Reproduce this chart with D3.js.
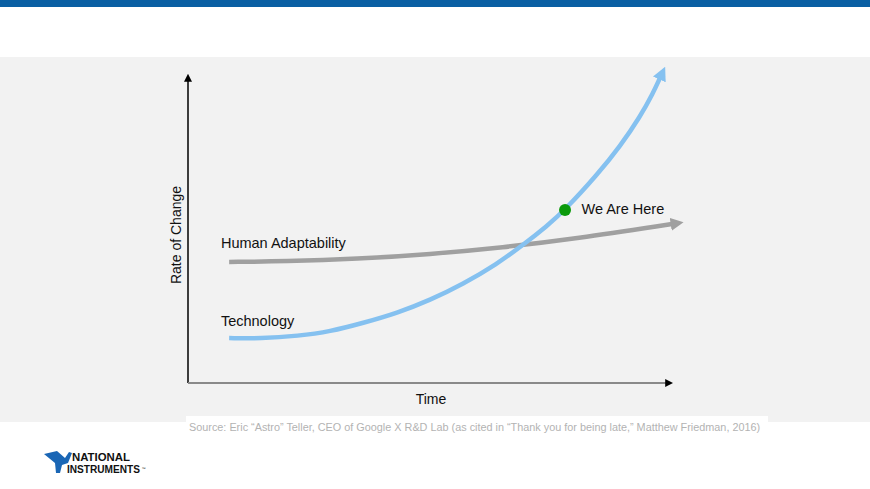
<!DOCTYPE html>
<html>
<head>
<meta charset="utf-8">
<script src="https://cdn.jsdelivr.net/npm/d3@7"></script>
<style>
    html, body { margin: 0; padding: 0; background: #fff; }
    svg { display: block; font-family: Arial, "Liberation Sans", sans-serif; }
</style>
</head>
<body>
<svg id="chart" width="870" height="489"></svg>
<script>

// conceptual curves, time 0..100 vs rate 0..100
var humanTime  = [8.5, 20, 35, 50, 65, 80, 100];
var humanRate  = [39.3, 39.5, 40.3, 41.8, 44.0, 46.8, 51.6];

var techTime   = [8.5, 14.9, 22.9, 29.3, 36.2, 43.2, 50, 56.8, 63.8, 69.2, 74.2, 77.9, 84.5, 89.3, 93.4, 96.1, 97.5];
var techRate   = [14.6, 14.4, 15.3, 16.7, 19.5, 22.7, 26.9, 32.1, 38.6, 44.8, 51.0, 56.2, 67.5, 76.9, 86.4, 94.2, 99.0];

var hereTime   = 77.9,
    hereRate   = 56.2;

var labels = [
    { text: "Human Adaptability", t: 6.8, r: 43.9 },
    { text: "Technology",         t: 6.8, r: 18.5 },
    { text: "We Are Here",        t: 81.3, r: 54.8 }
];

var source = "Source: Eric \u201cAstro\u201d Teller, CEO of Google X R&D Lab (as cited in \u201cThank you for being late,\u201d Matthew Friedman, 2016)";

var svg = d3.select("#chart");

// page background
svg.append("rect").attr("x", 0).attr("y", 0).attr("width", 870).attr("height", 7).attr("fill", "#0a5fa3");
svg.append("rect").attr("x", 0).attr("y", 57).attr("width", 870).attr("height", 365).attr("fill", "#f2f2f2");
svg.append("rect").attr("x", 186).attr("y", 416).attr("width", 582).attr("height", 24).attr("fill", "#fff");

var x = d3.scaleLinear().domain([0, 100]).range([188, 672]),
    y = d3.scaleLinear().domain([0, 100]).range([383, 75]);

var defs = svg.append("defs");

function marker (id, color, w, h) {
    defs.append("marker")
        .attr("id", id)
        .attr("viewBox", "0 0 10 10")
        .attr("refX", 1)
        .attr("refY", 5)
        .attr("markerUnits", "userSpaceOnUse")
        .attr("markerWidth", w)
        .attr("markerHeight", h)
        .attr("orient", "auto")
        .append("path")
        .attr("d", "M0,0L10,5L0,10Z")
        .attr("fill", color);
}

marker("arrAxis", "#000", 8, 8);
marker("arrHuman", "#a0a0a0", 13, 14);
marker("arrTech", "#85c1f0", 14, 15);

// axes
svg.append("line")
    .attr("x1", x(0)).attr("y1", y(0))
    .attr("x2", x(0)).attr("y2", y(100) + 6)
    .attr("stroke", "#000").attr("stroke-width", 1.5)
    .attr("marker-end", "url(#arrAxis)");

svg.append("line")
    .attr("x1", x(0)).attr("y1", y(0))
    .attr("x2", x(100) - 6).attr("y2", y(0))
    .attr("stroke", "#8a8a8a").attr("stroke-width", 2)
    .attr("marker-end", "url(#arrAxis)");

svg.append("text")
    .attr("transform", "translate(181," + 235 + ") rotate(-90)")
    .attr("text-anchor", "middle")
    .attr("font-size", 14)
    .attr("fill", "#111")
    .text("Rate of Change");

svg.append("text")
    .attr("x", 431).attr("y", 404)
    .attr("text-anchor", "middle")
    .attr("font-size", 14)
    .attr("fill", "#111")
    .text("Time");

var line = d3.line()
    .x(function (d) { return x(d[0]); })
    .y(function (d) { return y(d[1]); })
    .curve(d3.curveBasis);

svg.append("path")
    .datum(d3.zip(humanTime, humanRate))
    .attr("d", line)
    .attr("fill", "none")
    .attr("stroke", "#a0a0a0")
    .attr("stroke-width", 4.5)
    .attr("marker-end", "url(#arrHuman)");

svg.append("path")
    .datum(d3.zip(techTime, techRate))
    .attr("d", line)
    .attr("fill", "none")
    .attr("stroke", "#85c1f0")
    .attr("stroke-width", 4.5)
    .attr("marker-end", "url(#arrTech)");

svg.append("circle")
    .attr("cx", x(hereTime)).attr("cy", y(hereRate))
    .attr("r", 6)
    .attr("fill", "#0b9a0b");

svg.selectAll("text.lbl")
    .data(labels)
    .enter()
    .append("text")
    .attr("class", "lbl")
    .attr("x", function (d) { return x(d.t); })
    .attr("y", function (d) { return y(d.r); })
    .attr("font-size", 14.5)
    .attr("fill", "#111")
    .text(function (d) { return d.text; });

svg.append("text")
    .attr("x", 189).attr("y", 431)
    .attr("font-size", 10.85)
    .attr("fill", "#b3b3b3")
    .text(source);

// logo
var logo = svg.append("g").attr("transform", "translate(44,451)");

logo.append("path")
    .attr("d", "M0,3 L13,0 L21,7 L25,1 L28,2 L24,12 L18,14 L16,22 L12,22 L11,12 Z")
    .attr("fill", "#1a66b5");

logo.append("text")
    .attr("x", 28).attr("y", 9.5)
    .attr("font-size", 10.5)
    .attr("font-weight", "bold")
    .attr("fill", "#111")
    .attr("textLength", 58)
    .attr("lengthAdjust", "spacingAndGlyphs")
    .text("NATIONAL");

logo.append("text")
    .attr("x", 23).attr("y", 21.5)
    .attr("font-size", 10.5)
    .attr("font-weight", "bold")
    .attr("fill", "#111")
    .attr("textLength", 73)
    .attr("lengthAdjust", "spacingAndGlyphs")
    .text("INSTRUMENTS");

logo.append("text")
    .attr("x", 97.5).attr("y", 18.5)
    .attr("font-size", 4)
    .attr("fill", "#111")
    .text("\u2122");

</script>
</body>
</html>
